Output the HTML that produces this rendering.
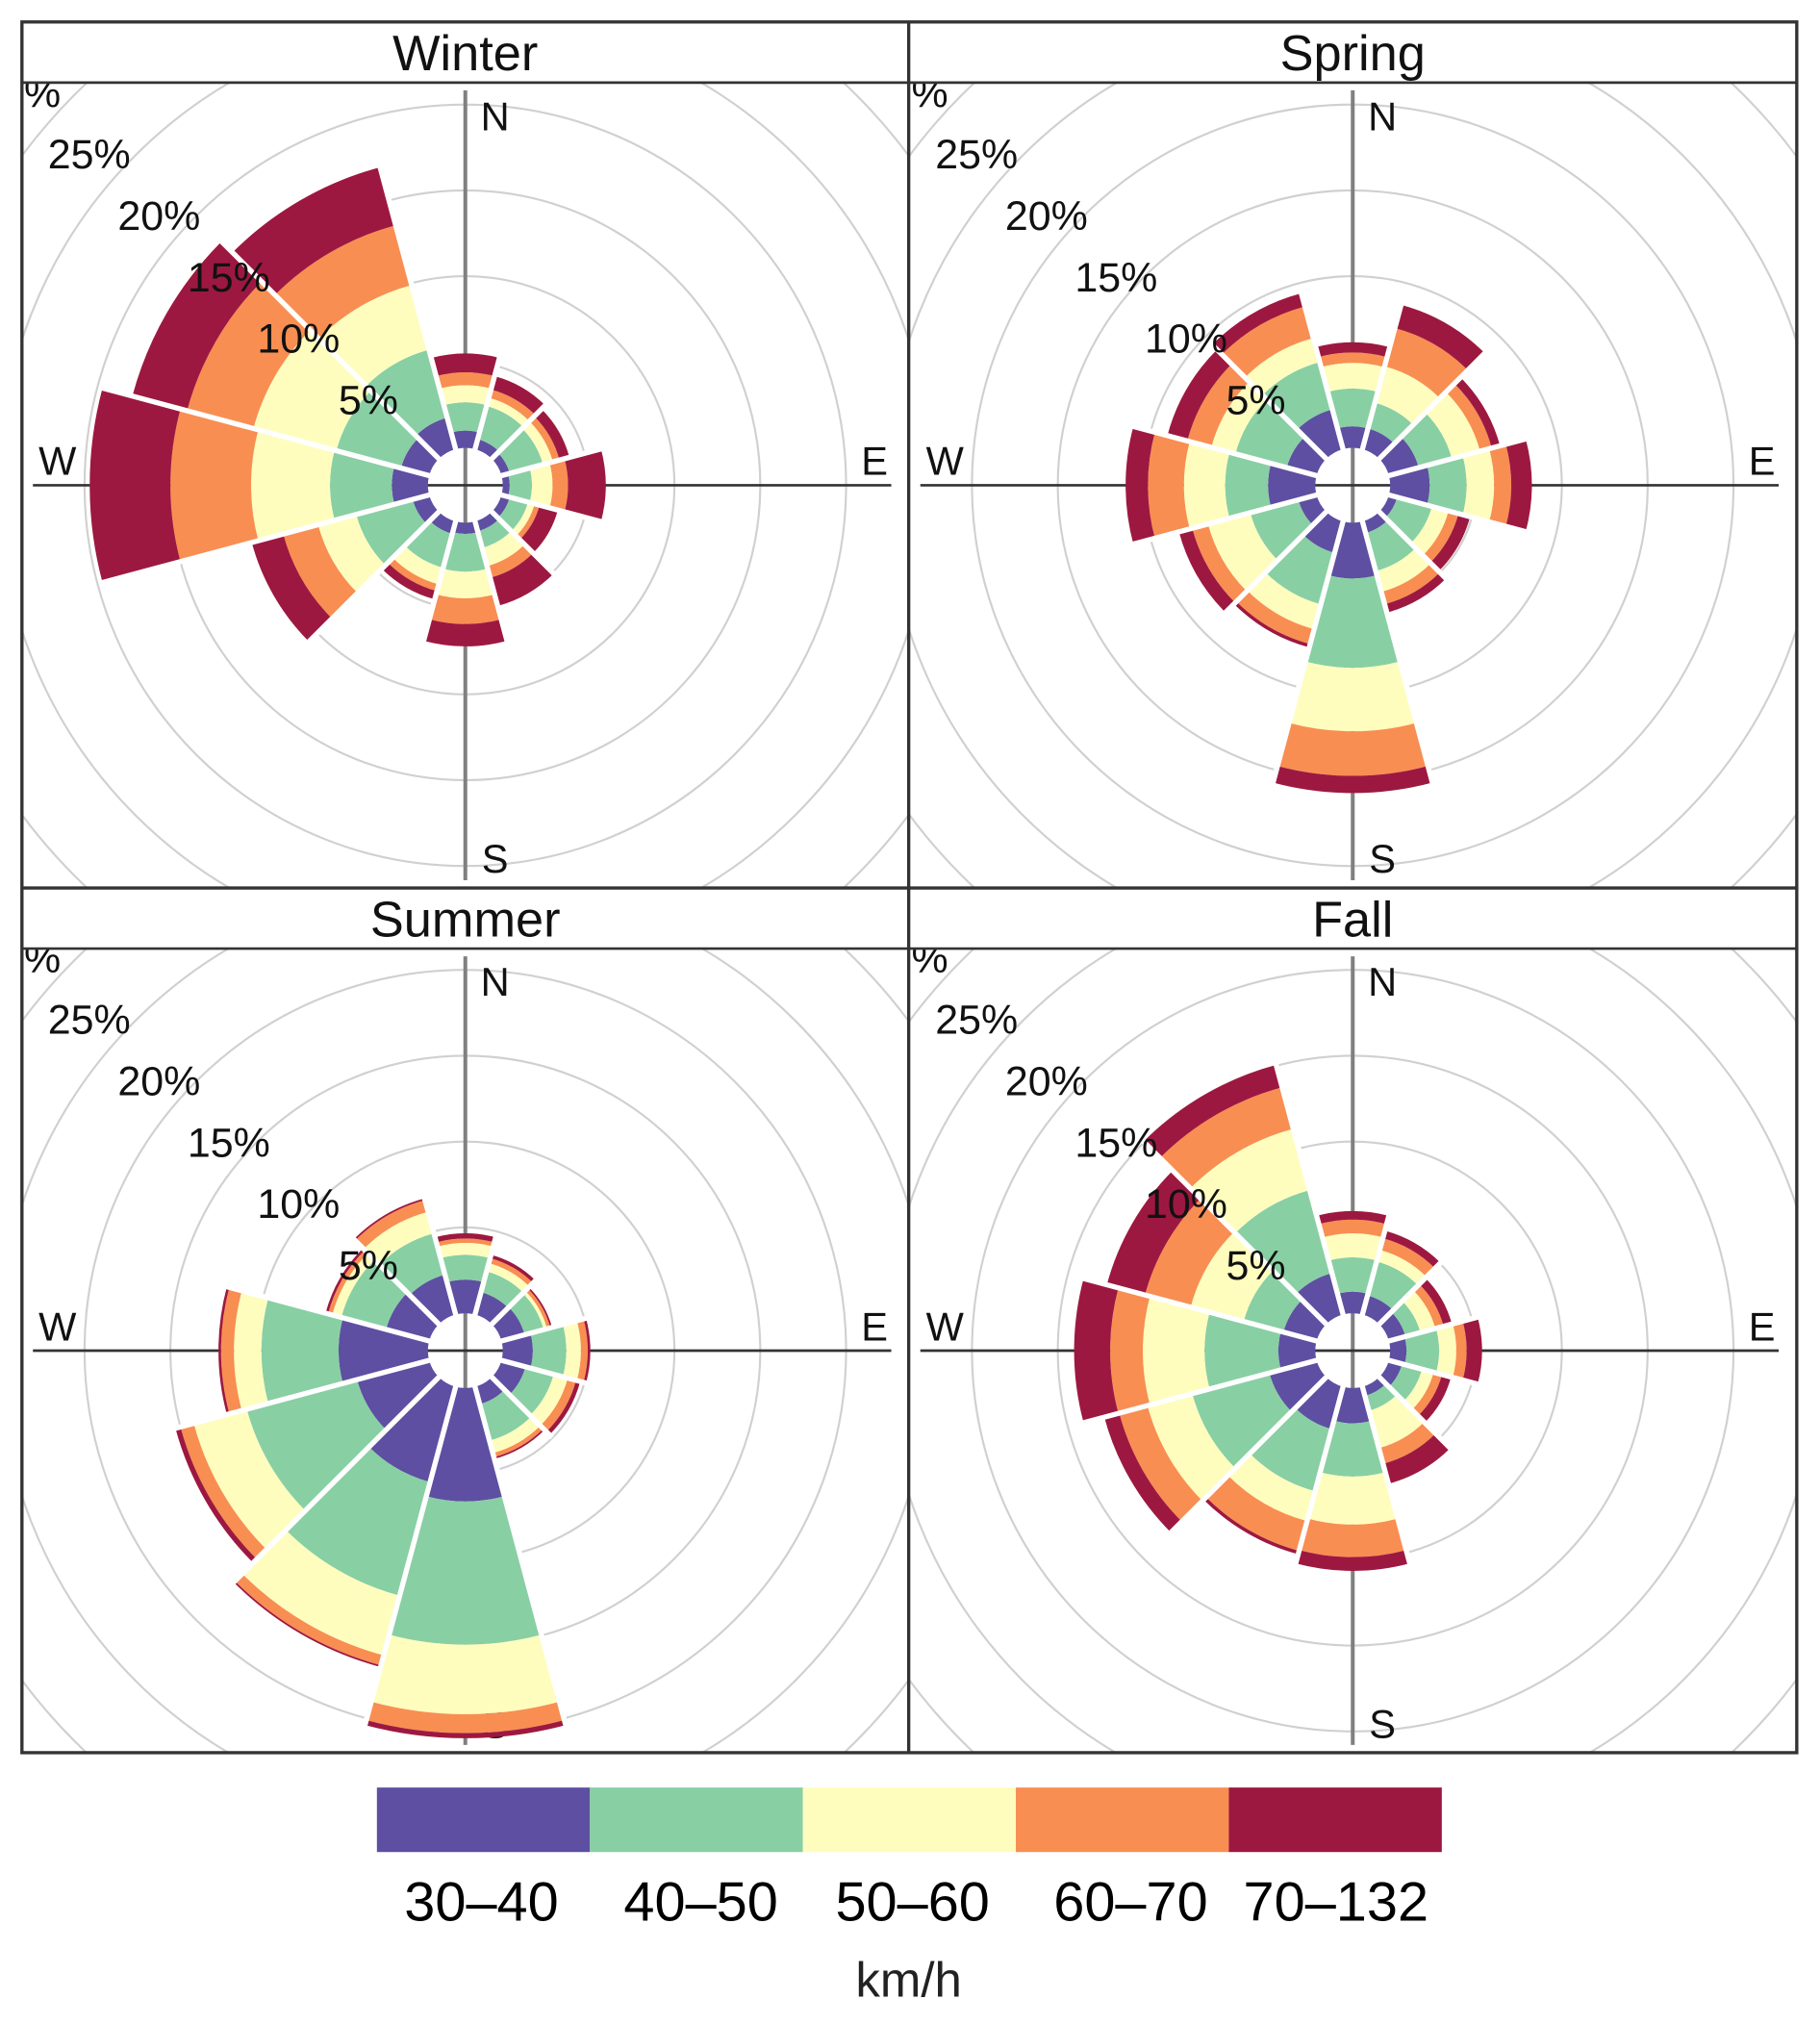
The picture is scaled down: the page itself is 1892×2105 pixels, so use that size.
<!DOCTYPE html>
<html><head><meta charset="utf-8"><style>
html,body{margin:0;padding:0;background:#fff;}
svg{display:block;font-family:"Liberation Sans",Arial,sans-serif;}
</style></head><body>
<svg id="chart" width="1892" height="2105" viewBox="0 0 1410 1569" preserveAspectRatio="none" xmlns="http://www.w3.org/2000/svg">
<rect x="0" y="0" width="1410" height="1569" fill="#fff"/>
<defs>
<clipPath id="c0"><rect x="17" y="64" width="687" height="624"/></clipPath>
<clipPath id="c1"><rect x="704" y="64" width="688" height="624"/></clipPath>
<clipPath id="c2"><rect x="17" y="735" width="687" height="623"/></clipPath>
<clipPath id="c3"><rect x="704" y="735" width="688" height="623"/></clipPath>
</defs>
<g id="panels"></g>
<g id="frame">
<rect x="17" y="17" width="1375" height="1341" fill="none" stroke="#333" stroke-width="2.5"/>
<line x1="704" y1="17" x2="704" y2="1358" stroke="#333" stroke-width="2.5"/>
<line x1="17" y1="688" x2="1392" y2="688" stroke="#333" stroke-width="2.5"/>
<line x1="17" y1="64" x2="1392" y2="64" stroke="#333" stroke-width="2"/>
<line x1="17" y1="735" x2="1392" y2="735" stroke="#333" stroke-width="2"/>
</g>
<g id="legend"></g>
</svg>
<script>
// ---- data: percent frequency per direction (0,30,...,330 deg) per speed band ----
const directions = [0,30,60,90,120,150,180,210,240,270,300,330];
const speedBands = ["30–40","40–50","50–60","60–70","70–132"];
const bandColors = ["#5e4fa2","#88cfa4","#fefdbe","#f88e52","#9d1840"];
const seasons = ["Winter","Spring","Summer","Fall"];
const ringTicks = [5,10,15,20,25,30];
const ringLabels = ["5%","10%","15%","20%","25%","30%"];

const winter = [
 [1.0,1.65,1.0,0.75,1.1],[0.6,2.0,0.5,0.5,0.8],[0.5,2.0,0.6,0.4,0.6],[0.4,1.3,1.2,0.9,2.2],
 [0.5,1.1,0.4,0.3,1.1],[0.6,1.0,1.1,0.7,1.7],[0.65,2.2,1.55,1.5,1.3],[0.75,2.05,1.0,0.4,0.5],
 [1.0,3.4,2.3,2.1,1.9],[2.1,3.6,4.6,4.7,4.7],[1.7,3.9,5.0,4.0,3.3],[1.9,4.1,3.9,3.6,3.5]];
const spring = [
 [1.25,2.2,1.5,0.6,0.6],[1.25,1.55,2.2,2.3,1.4],[1.8,2.0,1.7,0.7,0.5],[2.3,2.15,1.6,1.0,1.2],
 [0.5,2.1,1.0,0.6,0.7],[0.7,2.3,1.25,0.75,0.5],[3.25,5.2,3.7,2.6,1.0],[1.9,3.1,1.5,0.9,0.2],
 [1.1,2.9,2.55,0.95,0.8],[2.75,2.5,2.4,2.1,1.3],[1.8,3.1,1.45,1.45,1.2],[2.4,2.85,1.45,1.9,0.8]];
const summer = [
 [1.95,1.45,0.7,0.25,0.3],[1.35,1.25,0.5,0.3,0.2],[1.4,1.15,0.2,0.2,0.1],[1.75,1.95,0.85,0.4,0.15],
 [1.45,1.7,0.85,0.5,0.25],[1.05,2.2,0.75,0.25,0.1],[6.6,8.35,4.05,1.1,0.3],[5.75,6.85,3.6,0.6,0.1],
 [4.35,6.65,3.2,0.8,0.3],[5.2,4.5,1.6,0.75,0.15],[2.6,2.7,0.55,0.25,0.15],[2.4,2.5,1.3,0.7,0.1]];
const fall = [
 [1.25,2.0,1.4,0.8,0.5],[1.15,2.05,0.7,0.7,0.45],[1.0,0.9,0.9,0.5,0.5],[0.95,1.9,1.0,0.6,0.9],
 [0.8,1.2,0.7,0.5,0.55],[0.55,0.9,2.25,0.95,1.2],[2.05,3.1,2.8,1.9,0.8],[2.55,3.75,1.8,1.8,0.2],
 [2.85,4.65,2.7,1.7,0.9],[2.15,4.3,3.6,1.9,2.1],[2.0,2.4,3.2,2.75,2.3],[2.5,5.0,3.7,2.5,1.35]];
const seasonData = [winter, spring, summer, fall];

const NS = "http://www.w3.org/2000/svg";
const R0 = 29, K = 13.3;
function rScale(p){ return R0 + K*p; }
function pt(cx,cy,r,a){ const t=a*Math.PI/180; return [cx+r*Math.sin(t), cy-r*Math.cos(t)]; }
function mk(tag, attrs, parent){ const e=document.createElementNS(NS,tag); for(const k in attrs) e.setAttribute(k,attrs[k]); parent.appendChild(e); return e; }

const panelsG = document.getElementById("panels");
const layout = [
 {x0:17,x1:704,y0:17,ys:64,y1:688},
 {x0:704,x1:1392,y0:17,ys:64,y1:688},
 {x0:17,x1:704,y0:688,ys:735,y1:1358},
 {x0:704,x1:1392,y0:688,ys:735,y1:1358}];

seasons.forEach((name, si) => {
  const L = layout[si];
  const cx = (L.x0+L.x1)/2, cy = (L.ys+L.y1)/2;
  const g = mk("g", {}, panelsG);
  
  
  const title = mk("text", {x:cx, y:(L.y0+L.ys)/2+14, "text-anchor":"middle", "font-size":"39", fill:"#111"}, g);
  title.textContent = name;
  
  
  const plot = mk("g", {"clip-path":"url(#c"+si+")"}, g);
  ringTicks.forEach(t => {
    const c = mk("circle", {cx:cx, cy:cy, r:rScale(t), fill:"none", stroke:"#d0d0d0", "stroke-width":"1.6"}, plot);
    
    
  });
  const vline = mk("line", {x1:cx, y1:L.ys+6, x2:cx, y2:L.y1-6, stroke:"#808080", "stroke-width":"3"}, plot);
  
  
  const hline = mk("line", {x1:cx-335, y1:cy, x2:cx+330, y2:cy, stroke:"#333", "stroke-width":"2"}, plot);
  
  
  [["N",23,-286],["E",317,-19],["S",23,289],["W",-316,-19]].forEach(c => {
    const t = mk("text", {x:cx+c[1], y:cy+c[2]+11, "text-anchor":"middle", "font-size":"31", fill:"#111"}, plot);
    t.textContent = c[0];
    
    
  });
  const data = seasonData[si];
  const totals = [];
  directions.forEach((d, di) => {
    let cum = 0;
    const a0 = d-15, a1 = d+15;
    data[di].forEach((v, bi) => {
      const r0 = rScale(cum); cum += v; const r1 = rScale(cum);
      const o0 = pt(cx,cy,r1,a0), o1 = pt(cx,cy,r1,a1), i1 = pt(cx,cy,r0,a1), i0 = pt(cx,cy,r0,a0);
      const p = mk("path", {d:`M${o0[0]},${o0[1]} A${r1},${r1} 0 0 1 ${o1[0]},${o1[1]} L${i1[0]},${i1[1]} A${r0},${r0} 0 0 0 ${i0[0]},${i0[1]} Z`, fill:bandColors[bi]}, plot);
      
      
    });
    totals.push(cum);
  });
  directions.forEach((d, di) => {
    const nxt = (di+1)%directions.length;
    const rmax = rScale(Math.max(totals[di], totals[nxt])) + 3;
    const e = pt(cx,cy,rmax,d+15);
    const s = pt(cx,cy,R0-1,d+15);
    const l = mk("line", {x1:s[0], y1:s[1], x2:e[0], y2:e[1], stroke:"#fff", "stroke-width":"4"}, plot);
    
    
  });
  ringTicks.forEach((t, ti) => {
    const rr = 28 + 14.4*t;
    const tx = mk("text", {x:cx-0.751*rr, y:cy-0.661*rr+11, "text-anchor":"middle", "font-size":"32", fill:"#111"}, plot);
    tx.textContent = ringLabels[ti];
    
    
  });
});

const lg = document.getElementById("legend");
const lx0 = 292, lw = 165, ly = 1385, lh = 50;
const labelCenters = [373,543,707,876,1035];
speedBands.forEach((b, i) => {
  const r = mk("rect", {x:lx0+i*lw, y:ly, width:lw, height:lh, fill:bandColors[i]}, lg);
  
  
  const t = mk("text", {x:labelCenters[i], y:1488, "text-anchor":"middle", "font-size":"43", fill:"#000"}, lg);
  t.textContent = b;
  
  
});
const unit = mk("text", {x:704, y:1547, "text-anchor":"middle", "font-size":"38", fill:"#222"}, lg);
unit.textContent = "km/h";


</script>
</body></html>
